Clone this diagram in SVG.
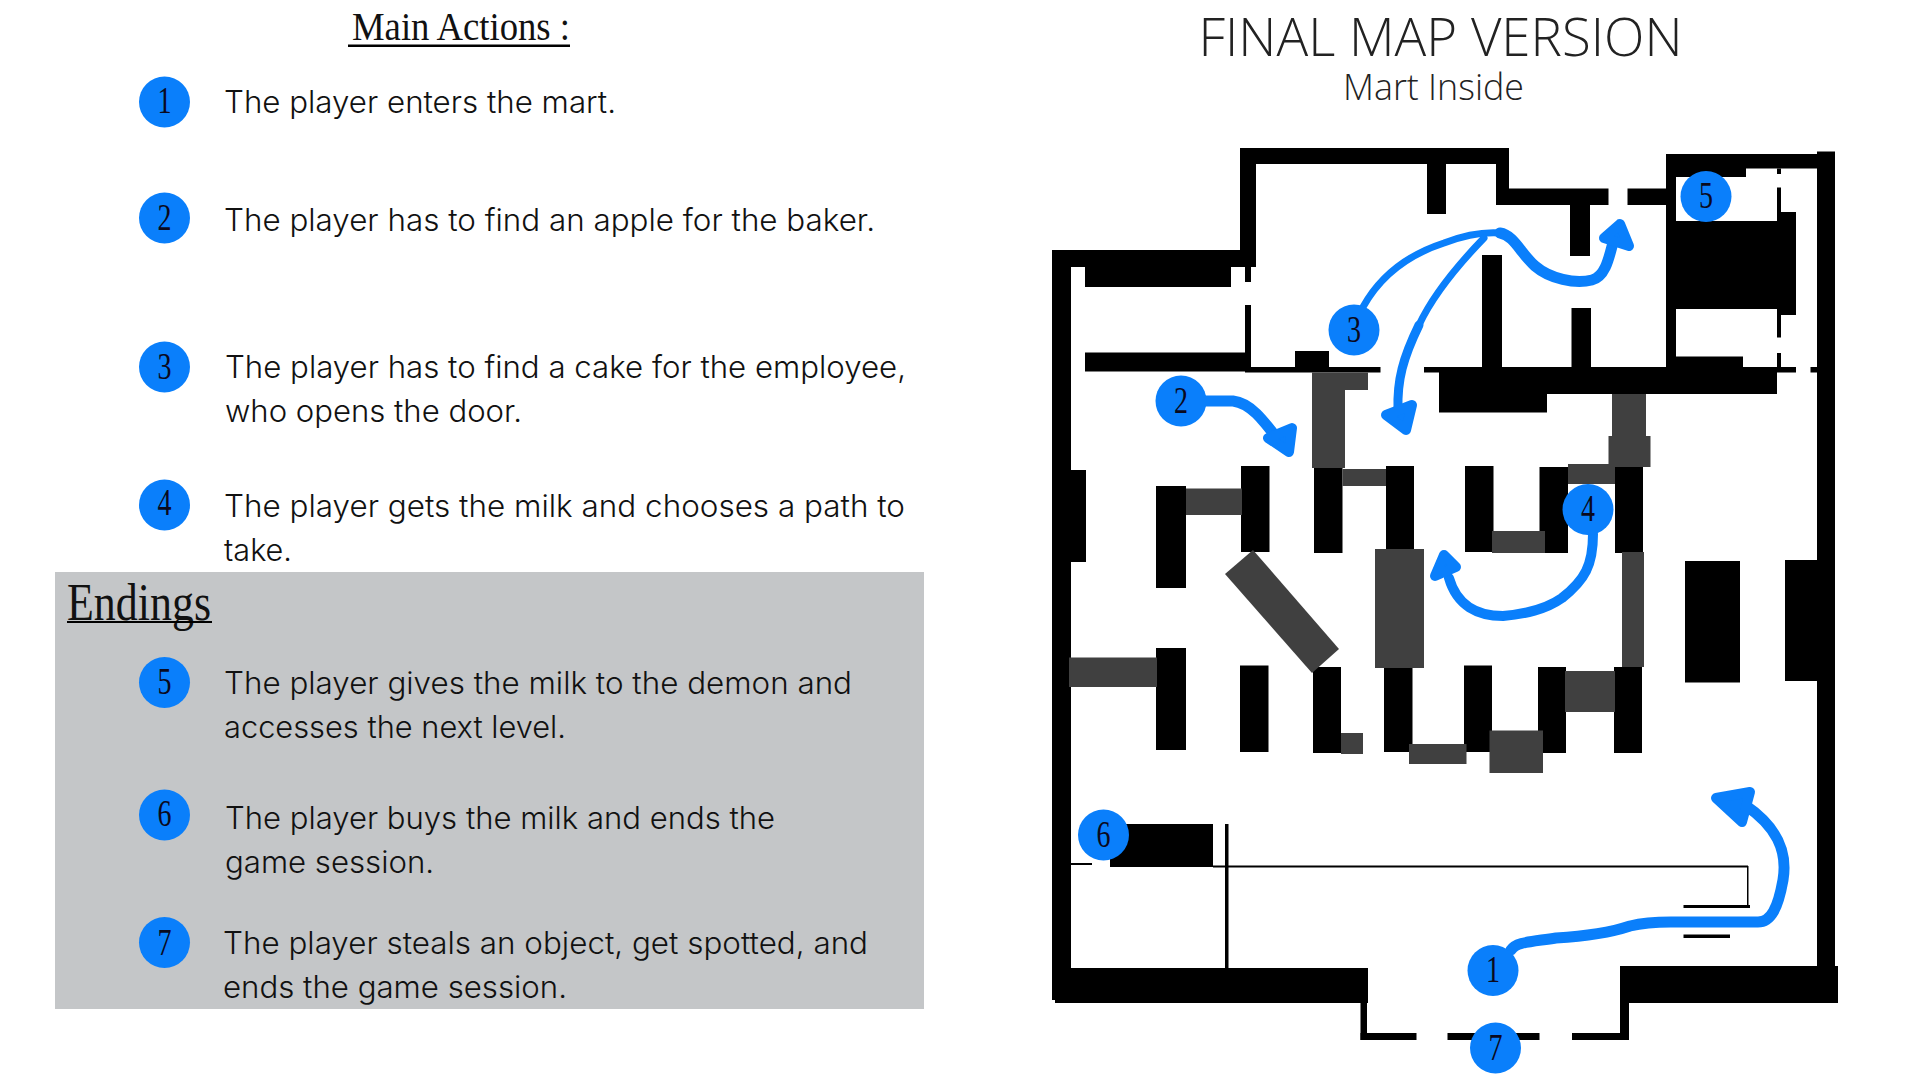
<svg xmlns="http://www.w3.org/2000/svg" width="1920" height="1080" viewBox="0 0 1920 1080">
<style>
.b{font-family:"Inter","Liberation Sans",sans-serif;font-weight:300;font-size:30.5px;fill:#111}
.h{font-family:"Liberation Serif",serif;fill:#111}
.t{font-family:"Open Sans","Liberation Sans",sans-serif;font-weight:300;fill:#222}
.d{font-family:"Liberation Serif",serif;font-size:37px;fill:#0a0a1e;text-anchor:middle}
.n{fill:#0a7ffb}
.k rect,.k polygon{fill:#000}
.g rect,.g polygon{fill:#404040}
.p{fill:none;stroke:#0a7ffb;stroke-width:8;stroke-linecap:round;stroke-linejoin:round}
.a{fill:#0a7ffb;stroke:#0a7ffb;stroke-width:10;stroke-linejoin:round}
</style>
<rect width="1920" height="1080" fill="#fff"/>
<rect id="endings-panel" x="55" y="572" width="869" height="437" fill="#c4c6c8"/>

<g id="headings">
<text class="h" x="352" y="39.5" font-size="40" textLength="218" lengthAdjust="spacingAndGlyphs">Main Actions :</text>
<rect x="348" y="44.5" width="222" height="2.5" fill="#000"/>
<text class="h" x="67" y="619.5" font-size="52" textLength="144" lengthAdjust="spacingAndGlyphs">Endings</text>
<rect x="67" y="621" width="145" height="2" fill="#000"/>
<text class="t" x="1198.5" y="56" font-size="52.5" textLength="484" lengthAdjust="spacingAndGlyphs">FINAL MAP VERSION</text>
<text class="t" x="1343" y="100" font-size="37.5" textLength="181" lengthAdjust="spacingAndGlyphs">Mart Inside</text>
</g>

<g id="legend-text">
<text class="b" x="224" y="112.5" textLength="392" lengthAdjust="spacingAndGlyphs">The player enters the mart.</text>
<text class="b" x="224" y="230.5" textLength="651" lengthAdjust="spacingAndGlyphs">The player has to find an apple for the baker.</text>
<text class="b" x="225" y="377.5" textLength="681" lengthAdjust="spacingAndGlyphs">The player has to find a cake for the employee,</text>
<text class="b" x="225" y="421.5" textLength="297" lengthAdjust="spacingAndGlyphs">who opens the door.</text>
<text class="b" x="224" y="516.5" textLength="681" lengthAdjust="spacingAndGlyphs">The player gets the milk and chooses a path to</text>
<text class="b" x="224" y="560.5" textLength="68" lengthAdjust="spacingAndGlyphs">take.</text>
<text class="b" x="224" y="693.5" textLength="628" lengthAdjust="spacingAndGlyphs">The player gives the milk to the demon and</text>
<text class="b" x="224" y="737.5" textLength="342" lengthAdjust="spacingAndGlyphs">accesses the next level.</text>
<text class="b" x="225" y="828.5" textLength="550" lengthAdjust="spacingAndGlyphs">The player buys the milk and ends the</text>
<text class="b" x="225" y="872.5" textLength="209" lengthAdjust="spacingAndGlyphs">game session.</text>
<text class="b" x="223" y="954" textLength="645" lengthAdjust="spacingAndGlyphs">The player steals an object, get spotted, and</text>
<text class="b" x="223" y="998" textLength="344" lengthAdjust="spacingAndGlyphs">ends the game session.</text>
</g>

<g id="legend-1"><circle class="n" cx="164.5" cy="102" r="25.5"/><text class="d" x="164.5" y="113" textLength="14" lengthAdjust="spacingAndGlyphs">1</text></g>
<g id="legend-2"><circle class="n" cx="164.5" cy="218" r="25.5"/><text class="d" x="164.5" y="230" textLength="14" lengthAdjust="spacingAndGlyphs">2</text></g>
<g id="legend-3"><circle class="n" cx="164.5" cy="367" r="25.5"/><text class="d" x="164.5" y="379" textLength="14" lengthAdjust="spacingAndGlyphs">3</text></g>
<g id="legend-4"><circle class="n" cx="164.5" cy="505" r="25.5"/><text class="d" x="164.5" y="515" textLength="14" lengthAdjust="spacingAndGlyphs">4</text></g>
<g id="legend-5"><circle class="n" cx="164.5" cy="682.5" r="25.5"/><text class="d" x="164.5" y="694" textLength="14" lengthAdjust="spacingAndGlyphs">5</text></g>
<g id="legend-6"><circle class="n" cx="164.5" cy="815" r="25.5"/><text class="d" x="164.5" y="826" textLength="14" lengthAdjust="spacingAndGlyphs">6</text></g>
<g id="legend-7"><circle class="n" cx="164.5" cy="942.5" r="25.5"/><text class="d" x="164.5" y="955" textLength="14" lengthAdjust="spacingAndGlyphs">7</text></g>

<g id="map-walls" class="k">
<rect x="1240" y="148" width="269" height="16"/>
<rect x="1240" y="148" width="16" height="119"/>
<rect x="1496" y="148" width="13" height="57"/>
<rect x="1496" y="188.5" width="112.5" height="16.5"/>
<rect x="1627.5" y="188.5" width="38.5" height="16.5"/>
<rect x="1427" y="164" width="19" height="50"/>
<rect x="1570" y="205" width="20" height="51"/>
<rect x="1666" y="154" width="151" height="14.5"/>
<rect x="1666" y="168" width="80" height="9"/>
<rect x="1817" y="151.5" width="18" height="820"/>
<rect x="1666" y="154" width="10" height="213"/>
<rect x="1666" y="221" width="111" height="88"/>
<rect x="1777" y="212" width="19" height="103"/>
<rect x="1777" y="168.5" width="4" height="5.5"/>
<rect x="1777" y="187.5" width="4" height="25"/>
<rect x="1777" y="315" width="4" height="22.5"/>
<rect x="1777" y="353" width="4" height="14"/>
<rect x="1676" y="356.5" width="67" height="11"/>
<rect x="1052" y="250" width="188" height="17"/>
<rect x="1052" y="250" width="19" height="750"/>
<rect x="1085" y="267" width="146" height="20"/>
<rect x="1245" y="267" width="6" height="15"/>
<rect x="1245" y="305" width="6" height="62"/>
<rect x="1085" y="352.5" width="160" height="19"/>
<rect x="1245" y="367" width="135.5" height="5.5"/>
<rect x="1295" y="351" width="34" height="16"/>
<rect x="1424" y="367" width="372" height="5.5"/>
<rect x="1810.5" y="367" width="7" height="5.5"/>
<rect x="1439" y="372" width="338" height="22"/>
<rect x="1439" y="393" width="108" height="19.5"/>
<rect x="1482" y="255" width="20" height="112"/>
<rect x="1571.5" y="308" width="19.5" height="59"/>
<rect x="1052" y="470" width="34" height="92"/>
<rect x="1156" y="486" width="30" height="102"/>
<rect x="1241" y="466" width="28.5" height="86"/>
<rect x="1314" y="468" width="28.5" height="85"/>
<rect x="1386" y="466" width="28" height="84"/>
<rect x="1465" y="466" width="28.5" height="86"/>
<rect x="1539.5" y="467" width="28.5" height="86"/>
<rect x="1615" y="467" width="28" height="86"/>
<rect x="1685" y="561" width="55" height="121.5"/>
<rect x="1785" y="560" width="32" height="121"/>
<rect x="1156" y="648" width="30" height="102"/>
<rect x="1240" y="665.5" width="28.5" height="86.5"/>
<rect x="1313" y="667" width="28" height="86"/>
<rect x="1384" y="668" width="28.5" height="84"/>
<rect x="1464" y="665.5" width="28" height="86.5"/>
<rect x="1538" y="667" width="28" height="86"/>
<rect x="1614" y="667" width="28" height="86"/>
<rect x="1110" y="824" width="103" height="43"/>
<rect x="1225" y="824" width="3.5" height="144"/>
<rect x="1213" y="865.5" width="535" height="2"/>
<rect x="1747" y="866" width="1.5" height="40"/>
<rect x="1683.5" y="905" width="66.5" height="3"/>
<rect x="1683.5" y="934.5" width="46.5" height="3.5"/>
<rect x="1071" y="863" width="21" height="2"/>
<rect x="1052" y="968" width="315" height="31"/>
<rect x="1055" y="968" width="313" height="35"/>
<rect x="1620" y="966" width="218" height="37"/>
<rect x="1360.5" y="1002" width="6.5" height="38"/>
<rect x="1360.5" y="1033" width="56" height="7"/>
<rect x="1447.5" y="1033" width="92" height="7"/>
<rect x="1572" y="1033" width="57" height="7"/>
<rect x="1620" y="1002" width="9" height="38"/>
</g>

<g id="map-shelves" class="g">
<rect x="1312" y="372.5" width="33" height="95.5"/>
<rect x="1345" y="372.5" width="23" height="17.5"/>
<rect x="1342.5" y="469" width="43.5" height="17"/>
<rect x="1186" y="488.5" width="56" height="26.5"/>
<rect x="1612" y="394" width="34" height="42"/>
<rect x="1608.5" y="436" width="42" height="31"/>
<rect x="1568" y="464" width="47" height="20"/>
<rect x="1492" y="531" width="53" height="22"/>
<polygon points="1253,550 1339,649 1312,673 1225,574"/>
<rect x="1375" y="549" width="49" height="119"/>
<rect x="1622" y="552" width="22" height="115"/>
<rect x="1069" y="657.5" width="88" height="29.5"/>
<rect x="1341" y="733" width="22" height="21"/>
<rect x="1565" y="671" width="50" height="41"/>
<rect x="1409" y="744" width="57.5" height="20"/>
<rect x="1489.5" y="730.5" width="53.5" height="42.5"/>
</g>

<g id="connectors">
<path class="p" style="stroke-width:7" d="M1363 307C1378 280 1404 256 1444 243C1465 235 1485 232 1500 233"/>
<path class="p" style="stroke-width:11" d="M1500 233C1514 235 1521 254 1535 266C1550 279 1575 284 1592 280C1608 276 1610 250 1616 232"/>
<polygon class="a" points="1620,224 1604,238 1629,246"/>
<path class="p" style="stroke-width:7" d="M1484 238C1455 268 1433 295 1419 325"/>
<path class="p" style="stroke-width:9" d="M1419 325C1403 358 1397 380 1398 410"/>
<polygon class="a" points="1406,430 1386,415 1412,405"/>
<path class="p" style="stroke-width:11" d="M1205 401H1233C1250 403 1262 418 1282 445"/>
<polygon class="a" points="1289,452 1268,438 1292,428"/>
<path class="p" style="stroke-width:10" d="M1593 534C1593 565 1585 580 1562 598C1545 610 1525 614 1503 616C1478 616 1457 606 1449 578"/>
<polygon class="a" points="1444,555 1435,576 1456,567"/>
<path class="p" style="stroke-width:11" d="M1511 950C1516 942 1530 942 1556 938C1590 936 1612 932 1630 926C1650 921 1665 922 1680 922H1758C1771 922 1778 908 1783 880C1788 850 1776 826 1745 805"/>
<polygon class="a" points="1750,792 1716,798 1742,822"/>
</g>

<g id="map-1"><circle class="n" cx="1493" cy="970.5" r="25.5"/><text class="d" x="1493" y="982" textLength="14" lengthAdjust="spacingAndGlyphs">1</text></g>
<g id="map-2"><circle class="n" cx="1181" cy="401" r="25.5"/><text class="d" x="1181" y="413" textLength="14" lengthAdjust="spacingAndGlyphs">2</text></g>
<g id="map-3"><circle class="n" cx="1354" cy="330" r="25.5"/><text class="d" x="1354" y="342" textLength="14" lengthAdjust="spacingAndGlyphs">3</text></g>
<g id="map-4"><circle class="n" cx="1588" cy="509.5" r="25.5"/><text class="d" x="1588" y="521" textLength="14" lengthAdjust="spacingAndGlyphs">4</text></g>
<g id="map-5"><circle class="n" cx="1706" cy="196.5" r="25.5"/><text class="d" x="1706" y="208" textLength="14" lengthAdjust="spacingAndGlyphs">5</text></g>
<g id="map-6"><circle class="n" cx="1103.5" cy="835" r="25.5"/><text class="d" x="1103.5" y="847" textLength="14" lengthAdjust="spacingAndGlyphs">6</text></g>
<g id="map-7"><circle class="n" cx="1495.5" cy="1048" r="25.5"/><text class="d" x="1495.5" y="1060" textLength="14" lengthAdjust="spacingAndGlyphs">7</text></g>
</svg>
